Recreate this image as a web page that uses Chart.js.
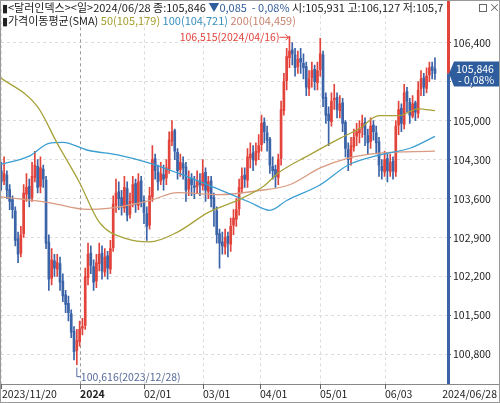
<!DOCTYPE html>
<html><head><meta charset="utf-8">
<script src="https://cdn.jsdelivr.net/npm/chart.js@4"></script>
<style>html,body{margin:0;padding:0;background:#fff}#w{width:500px;height:403px;position:relative;box-sizing:border-box;border:1px solid #999}canvas{display:block}</style>
</head><body><div id="w"><canvas id="c" width="498" height="401"></canvas></div>
<script>
const opens=[104.10,103.92,104.02,103.76,103.58,103.38,102.88,102.62,102.97,103.68,
103.82,103.62,103.98,104.18,103.82,104.13,103.93,102.82,102.17,102.48,
102.33,102.43,102.12,101.87,101.72,101.53,101.22,100.87,101.03,101.27,
101.32,102.18,102.62,102.38,102.12,102.43,102.62,102.28,102.57,102.33,
102.72,103.48,103.72,103.62,103.43,103.78,103.32,103.53,103.87,103.48,
103.92,103.57,103.33,103.12,103.63,104.32,104.08,103.92,104.03,103.97,
104.13,104.63,104.82,104.43,104.12,104.23,104.17,103.77,103.97,103.83,
103.82,103.92,103.83,104.07,103.73,103.92,103.62,103.38,102.97,102.82,
102.73,102.92,102.78,103.12,103.23,103.42,103.78,104.02,103.93,104.33,
104.42,104.28,104.43,104.57,104.97,104.78,104.67,104.18,104.12,103.98,
104.32,105.18,105.72,106.13,106.27,106.18,105.97,106.12,106.03,105.97,
105.58,105.77,105.92,105.68,105.92,106.18,105.42,105.12,104.98,105.37,
105.42,105.18,105.32,104.97,104.48,104.32,104.53,104.72,104.78,104.87,
104.97,104.73,104.62,104.92,104.78,104.62,104.18,104.08,104.32,104.08,
104.27,104.08,104.92,105.22,104.93,105.52,105.33,105.08,105.32,105.13,
105.57,105.77,105.58,105.82,105.97,105.931];
const closes=[103.90,104.05,103.75,103.55,103.40,102.85,102.60,102.95,103.70,103.80,
103.60,104.00,104.20,103.80,104.15,103.95,102.80,102.15,102.50,102.35,
102.45,102.10,101.85,101.70,101.55,101.20,100.85,101.05,101.25,101.30,
102.20,102.60,102.40,102.10,102.45,102.60,102.30,102.55,102.35,102.70,
103.50,103.70,103.60,103.45,103.80,103.30,103.55,103.85,103.50,103.90,
103.55,103.35,103.10,103.65,104.30,104.10,103.90,104.05,103.95,104.15,
104.65,104.80,104.45,104.10,104.25,104.15,103.75,103.95,103.85,103.80,
103.90,103.85,104.05,103.75,103.90,103.60,103.40,102.95,102.80,102.75,
102.90,102.80,103.10,103.25,103.40,103.80,104.00,103.95,104.35,104.40,
104.30,104.45,104.55,104.95,104.80,104.65,104.20,104.10,104.00,104.30,
105.20,105.70,106.15,106.25,106.20,105.95,106.10,106.05,105.95,105.60,
105.75,105.90,105.70,105.90,106.20,105.40,105.10,105.00,105.35,105.40,
105.20,105.30,104.95,104.50,104.30,104.55,104.70,104.80,104.85,104.95,
104.75,104.60,104.90,104.80,104.60,104.20,104.10,104.30,104.10,104.25,
104.10,104.90,105.20,104.95,105.50,105.35,105.10,105.30,105.15,105.55,
105.75,105.60,105.80,105.95,105.90,105.846];
const highs=[104.25,104.35,104.10,103.85,103.65,103.45,103.00,103.10,103.85,104.05,
103.95,104.25,104.45,104.30,104.35,104.20,104.00,102.95,102.70,102.60,
102.60,102.55,102.25,101.95,101.85,101.60,101.30,101.25,101.40,101.45,
102.35,102.80,102.75,102.50,102.60,102.80,102.75,102.70,102.65,102.85,
103.65,103.95,103.90,103.75,104.00,103.90,103.70,104.00,103.95,104.05,
104.00,103.65,103.45,103.80,104.55,104.40,104.20,104.25,104.20,104.30,
104.80,105.00,104.85,104.50,104.40,104.35,104.25,104.10,104.05,104.00,
104.10,104.05,104.30,104.15,104.00,104.00,103.70,103.45,103.05,103.00,
103.05,103.00,103.25,103.40,103.60,103.95,104.15,104.15,104.50,104.60,
104.55,104.60,104.75,105.10,105.05,104.90,104.70,104.35,104.20,104.40,
105.35,105.85,106.30,106.515,106.40,106.30,106.25,106.30,106.20,106.05,
105.90,106.05,106.00,106.05,106.48,106.25,105.50,105.25,105.50,105.65,
105.50,105.45,105.40,105.00,104.60,104.70,104.85,104.95,105.00,105.10,
105.05,104.85,105.05,105.00,104.90,104.70,104.30,104.45,104.40,104.40,
104.35,105.00,105.35,105.30,105.65,105.60,105.40,105.45,105.35,105.70,
105.90,105.85,105.95,106.05,106.05,106.127];
const lows=[103.75,103.85,103.60,103.40,103.25,102.75,102.45,102.55,102.90,103.55,
103.45,103.55,103.90,103.70,103.70,103.80,102.70,101.95,102.05,102.20,
102.20,101.95,101.75,101.55,101.40,101.10,100.70,100.616,100.95,101.15,
101.25,102.05,102.25,101.95,102.00,102.30,102.15,102.20,102.15,102.25,
102.65,103.35,103.40,103.30,103.35,103.20,103.25,103.45,103.35,103.40,
103.45,103.15,102.85,103.05,103.55,103.95,103.75,103.85,103.75,103.85,
104.05,104.55,104.30,103.95,104.00,103.95,103.55,103.65,103.65,103.60,
103.70,103.65,103.75,103.55,103.60,103.45,103.10,102.80,102.35,102.60,
102.60,102.55,102.65,102.95,103.10,103.30,103.70,103.80,103.80,104.15,
104.10,104.20,104.30,104.45,104.60,104.45,104.05,103.95,103.80,103.85,
104.20,105.10,105.55,105.95,106.00,105.80,105.85,105.85,105.75,105.45,
105.45,105.60,105.55,105.55,105.80,105.25,104.95,104.55,104.90,105.20,
105.05,105.05,104.80,104.35,104.10,104.20,104.45,104.55,104.60,104.70,
104.55,104.40,104.50,104.65,104.40,104.00,103.95,104.00,103.90,104.00,
103.95,104.00,104.75,104.80,104.85,105.15,104.95,105.05,105.00,105.05,
105.45,105.45,105.50,105.70,105.75,105.74];
const sma50=[[-1,105.797],[13,105.248],[20,104.592],[28,103.884],[35,103.175],[45,102.874],[53,102.821],[63,102.998],[74,103.352],[85,103.582],[94,103.830],[99,104.060],[110,104.380],[121,104.681],[128,104.858],[135,105.089],[142,105.089],[149,105.213],[155,105.179]];
const sma100=[[-1,104.203],[10,104.362],[17,104.592],[22,104.610],[31,104.468],[42,104.380],[53,104.238],[63,104.060],[78,103.759],[89,103.529],[96,103.388],[102,103.565],[114,103.848],[124,104.203],[135,104.380],[146,104.504],[155,104.717]];
const sma200=[[-1,103.636],[17,103.529],[31,103.405],[38,103.423],[53,103.565],[63,103.707],[78,103.671],[92,103.742],[103,103.848],[114,104.150],[124,104.327],[135,104.415],[155,104.451]];
const yTicks=[100.8,101.5,102.2,102.9,103.6,104.3,105.0,105.7,106.4];
const dateIdx=[0,28,51,72,92.5,114,137];
const dateLabels=['2023/11/20','2024','02/01','03/01','04/01','05/01','06/03'];
const lastLabel='2024/06/28';

const RED='#e2433b',BLUE='#3b63a8';
const fmt=v=>v.toFixed(3).replace('.',',');
const idx=closes.map((_,i)=>i);
const col=ctx=>{const i=ctx.dataIndex;return closes[i]>=opens[i]?RED:BLUE;};
const F='"Noto Sans CJK KR","Noto Sans",sans-serif';
const FS='10.5px ';

const deco={id:'deco',
beforeDatasetsDraw(ch){const c=ch.ctx,a=ch.chartArea,x=ch.scales.x;
 c.save();c.lineWidth=1;
 dateIdx.forEach((d,k)=>{const px=Math.round(x.getPixelForValue(d))+0.5;c.setLineDash([3,3]);c.strokeStyle=k==1?'#999':'#ddd';c.beginPath();c.moveTo(px,a.top);c.lineTo(px,a.bottom);c.stroke();});
 c.restore();},
afterDraw(ch){const c=ch.ctx,a=ch.chartArea,x=ch.scales.x,y=ch.scales.y,W=ch.width;
 c.save();
 c.strokeStyle='#888';c.lineWidth=1;c.beginPath();c.moveTo(0,a.bottom+0.5);c.lineTo(W,a.bottom+0.5);c.stroke();
 c.textBaseline='middle';c.fillStyle='#222';
 dateIdx.forEach((d,k)=>{const px=Math.round(x.getPixelForValue(d));c.strokeStyle='#666';c.beginPath();c.moveTo(px+0.5,a.bottom);c.lineTo(px+0.5,a.bottom+5);c.stroke();
  c.font=(k==1?'bold ':'')+FS+F;c.textAlign='left';c.fillText(dateLabels[k],k==0?1:px,a.bottom+10);});
 c.font=FS+F;c.textAlign='right';c.fillText(lastLabel,W-2,a.bottom+10);
 const py=y.getPixelForValue(closes[closes.length-1]);
 c.lineWidth=3;c.strokeStyle=RED;c.beginPath();c.moveTo(a.right+1.5,0);c.lineTo(a.right+1.5,py);c.stroke();
 c.strokeStyle=BLUE;c.beginPath();c.moveTo(a.right+1.5,py);c.lineTo(a.right+1.5,a.bottom);c.stroke();
 c.fillStyle='#2f5c9c';c.beginPath();c.moveTo(a.right+2,py);c.lineTo(a.right+7,py-12);c.lineTo(W,py-12);c.lineTo(W,py+13);c.lineTo(a.right+7,py+13);c.closePath();c.fill();
 c.fillStyle='#fff';c.textAlign='left';c.font=FS+F;c.fillText(fmt(closes[closes.length-1]),a.right+9,py-5);c.fillText('- 0,08%',a.right+11,py+6);
 c.textAlign='left';c.font='11px '+F;
 let xx=1;const put=(t,cl)=>{c.fillStyle=cl;c.fillText(t,xx,7);xx+=c.measureText(t).width;};
 put('▮<달러인덱스><일>2024/06/28 종:105,846 ','#222');put('▼0,085  - 0,08% ','#2f5c9c');put('시:105,931 고:106,127 저:105,7','#222');
 c.fillStyle='#fff';c.fillRect(464,0,34,14);c.strokeStyle='#666';c.lineWidth=1;c.strokeRect(478.5,3.5,7,7);
 c.fillStyle='#555';c.fillText('×',488,7);
 xx=1;const put2=(t,cl)=>{c.fillStyle=cl;c.fillText(t,xx,20);xx+=c.measureText(t).width;};
 put2('▮가격이동평균(SMA) ','#222');put2('50(105,179) ','#a39d2e');put2('100(104,721) ','#3a8fc0');put2('200(104,459)','#c98470');
 c.font=FS+F;
 const hx=x.getPixelForValue(103),hy=y.getPixelForValue(106.515);
 c.fillStyle=RED;c.textAlign='right';c.fillText('106,515(2024/04/16)',hx-10,hy+1);
 c.strokeStyle=RED;c.beginPath();c.moveTo(hx-10,hy+1);c.lineTo(hx-1,hy+1);c.stroke();
 c.beginPath();c.moveTo(hx-4,hy-2);c.lineTo(hx-1,hy+1);c.lineTo(hx-4,hy+4);c.stroke();
 const lx=x.getPixelForValue(27),ly=y.getPixelForValue(100.616);
 c.strokeStyle='#556a99';c.beginPath();c.moveTo(lx,ly+3);c.lineTo(lx,ly+12);c.lineTo(lx+4,ly+12);c.stroke();
 c.fillStyle='#556a99';c.textAlign='left';c.fillText('100,616(2023/12/28)',lx+4,ly+12);
 c.restore();}};

const lineOpts={borderWidth:1.3,pointRadius:0,cubicInterpolationMode:'monotone',order:0,type:'line'};
new Chart(document.getElementById('c'),{
 data:{datasets:[
  {...lineOpts,label:'50',data:sma50.map(p=>({x:p[0],y:p[1]})),borderColor:'#a8a23a'},
  {...lineOpts,label:'100',data:sma100.map(p=>({x:p[0],y:p[1]})),borderColor:'#3a9ed2'},
  {...lineOpts,label:'200',data:sma200.map(p=>({x:p[0],y:p[1]})),borderColor:'#d99a80'},
  {type:'bar',label:'wick',data:idx.map(i=>({x:i,y:[lows[i],highs[i]]})),backgroundColor:col,barThickness:1,grouped:false,order:2},
  {type:'bar',label:'body',data:idx.map(i=>({x:i,y:[Math.min(opens[i],closes[i]),Math.max(opens[i],closes[i])]})),backgroundColor:col,barThickness:2,minBarLength:1,grouped:false,order:1}
 ]},
 options:{responsive:false,animation:false,devicePixelRatio:1,
  layout:{padding:{left:0,top:0,bottom:18,right:0}},
  plugins:{legend:{display:false},tooltip:{enabled:false}},
  scales:{
   x:{type:'linear',min:-0.1,max:159.3,display:false,offset:false},
   y:{position:'right',min:100.269,max:107.0,
    afterBuildTicks:s=>{s.ticks=yTicks.map(v=>({value:v}));},
    afterFit:s=>{s.width=52;},
    grid:{color:'#ddd',drawTicks:true,tickLength:4,tickColor:'#666'},
    border:{display:false,dash:[3,3]},
    ticks:{color:'#222',font:{size:10.5,family:F},padding:2,callback:v=>fmt(v)}}
  }},
 plugins:[deco]
});
</script></body></html>
